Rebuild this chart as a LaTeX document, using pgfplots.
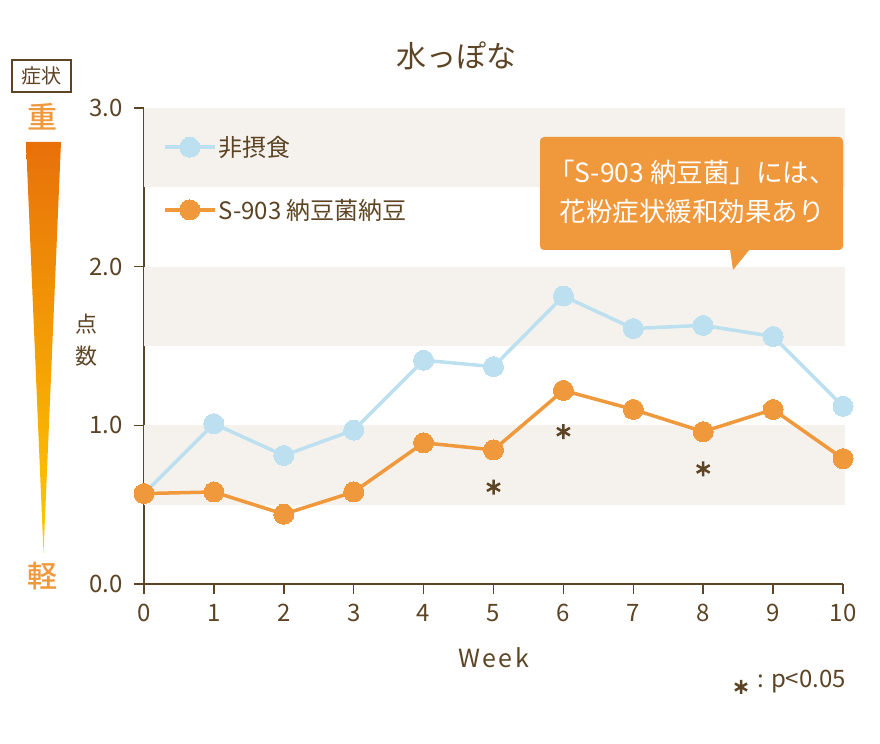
\documentclass[border=0pt]{standalone}
\usepackage{fontspec}
\setmainfont{Noto Sans CJK JP}
\newfontfamily\medf{Noto Sans CJK JP Medium}
\usepackage{pgfplots}
\pgfplotsset{compat=1.18}
\usetikzlibrary{shadings}
\definecolor{brn}{HTML}{5C4425}
\definecolor{lblue}{HTML}{BCE0F0}
\definecolor{org}{HTML}{F0983C}
\definecolor{band}{HTML}{F5F2ED}
\definecolor{gtop}{HTML}{E8700A}
\definecolor{gbot}{HTML}{FFCC00}
\newcommand{\fs}[1]{\fontsize{#1bp}{#1bp}\selectfont}
\begin{document}
\begin{tikzpicture}
\useasboundingbox (0,0) rectangle (880bp,744bp);
\begin{axis}[
  at={(144bp,160bp)}, anchor=south west,
  x=69.9bp, y=158.67bp,
  xmin=0, xmax=10, ymin=0, ymax=3,
  axis lines=left,
  axis line style={-, brn, line width=1.5bp},
  clip=false,
  xtick={0,1,...,10}, ytick={0,1,2,3},
  yticklabel style={/pgf/number format/fixed, /pgf/number format/fixed zerofill, /pgf/number format/precision=1},
  /pgf/number format/assume math mode=true,
  tick align=outside,
  major tick length=10bp,
  tick style={brn, line width=1.5bp},
  ticklabel style={font=\fs{24}, text=brn},
  xticklabel style={yshift=-7bp},
  yticklabel style={xshift=-8bp},
  xlabel={\addfontfeature{LetterSpace=10}Week}, xlabel style={font=\fs{25}, text=brn, yshift=-19bp},
  legend style={at={(axis cs:0.27,2.835)}, anchor=north west, draw=none, fill=none,
    font=\fs{24}, text=brn, row sep=37bp, inner sep=0pt},
  legend cell align=left,
  legend image code/.code={\draw[mark repeat=2,mark phase=2,#1] plot coordinates {(0bp,0bp) (25bp,0bp) (50bp,0bp)};},
]
\fill[band] (axis cs:0,0.5) rectangle (axis cs:10.03,1.0);
\fill[band] (axis cs:0,1.5) rectangle (axis cs:10.03,2.0);
\fill[band] (axis cs:0,2.5) rectangle (axis cs:10.03,3.0);
\addplot[lblue, line width=3.5bp, mark=*, mark size=10bp, mark options={solid, fill=lblue, draw=lblue, line width=0pt}]
 coordinates {(0,0.57) (1,1.01) (2,0.81) (3,0.97) (4,1.41) (5,1.37) (6,1.815) (7,1.61) (8,1.63) (9,1.56) (10,1.12)};
\addlegendentry{非摂食}
\addplot[org, line width=3.5bp, mark=*, mark size=10bp, mark options={solid, fill=org, draw=org, line width=0pt}]
 coordinates {(0,0.57) (1,0.58) (2,0.44) (3,0.58) (4,0.89) (5,0.845) (6,1.22) (7,1.10) (8,0.96) (9,1.10) (10,0.79)};
\addlegendentry{S-903 納豆菌納豆}
\addplot[brn, only marks, mark=asterisk, mark size=7.5bp, line width=2.5bp, forget plot]
 coordinates {(5,0.61) (6,0.96) (8,0.725)};
\end{axis}
% title
\node[text=brn, font=\fs{30}] at (456bp,688bp) {水っぽな};
% y label
\node[text=brn, font=\fs{22}, align=center, inner sep=0pt] at (86bp,404bp) {点\\[10bp]数};
% severity indicator
\node[draw=brn, line width=1.5bp, text=brn, font=\fs{20}, minimum width=59bp, minimum height=32bp, inner sep=0pt] at (41.5bp,668bp) {症状};
\node[text=org, font=\medf\fs{30}] at (42bp,627bp) {重};
\node[text=org, font=\medf\fs{30}] at (42bp,168bp) {軽};
\shade[top color=gtop, bottom color=gbot] (26bp,602bp) -- (61bp,602bp) -- (43.5bp,191bp) -- cycle;
% callout
\fill[org, rounded corners=4bp] (540bp,494bp) rectangle (843bp,607bp);
\fill[org] (730bp,495bp) -- (750bp,495bp) -- (733bp,474bp) -- cycle;
\node[text=white, font=\fs{26.5}, align=center] at (692bp,552bp) {「S-903 納豆菌」には、\\[12bp]花粉症状緩和効果あり};
% p-value note
\draw[brn, line width=2.5bp] plot[mark=asterisk, mark size=7bp] coordinates {(741bp,57bp)};
\node[text=brn, font=\fs{24}, anchor=west, inner sep=0pt] at (757bp,62bp) {: p<0.05};
\end{tikzpicture}
\end{document}
